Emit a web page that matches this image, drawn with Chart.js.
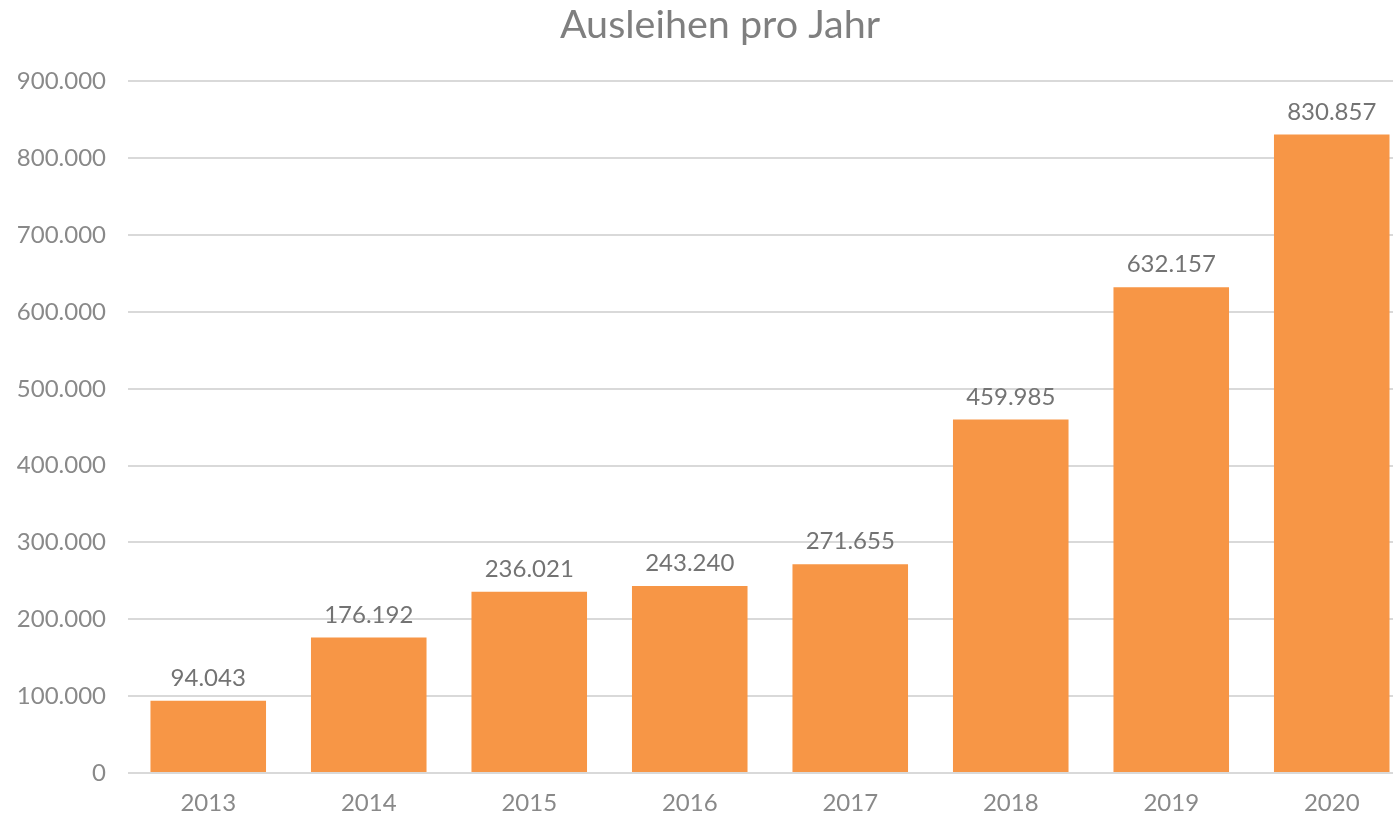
<!DOCTYPE html>
<html><head><meta charset="utf-8">
<script src="https://cdn.jsdelivr.net/npm/chart.js@4.4.1/dist/chart.umd.min.js"></script>
<style>
html,body{margin:0;padding:0;background:#fff;overflow:hidden;width:1393px;height:819px;}
#wrap{width:1393px;height:819px;overflow:hidden;position:relative;}
canvas{display:block;position:absolute;left:0;top:0;}
</style></head>
<body>
<div id="wrap"><canvas id="c" width="1440" height="819"></canvas></div>
<script>
const years = ['2013','2014','2015','2016','2017','2018','2019','2020'];
const loans = [94043,176192,236021,243240,271655,459985,632157,830857];
const chartTitle = 'Ausleihen pro Jahr';
const yTicks = [0,100000,200000,300000,400000,500000,600000,700000,800000,900000];

const fmt = v => v.toLocaleString('de-DE');
const FONT = 'Lato, "Open Sans", sans-serif';

const dataLabels = {
  id:'dataLabels',
  afterDatasetsDraw(chart){
    const ctx = chart.ctx;
    const meta = chart.getDatasetMeta(0);
    ctx.save();
    ctx.font = '24px ' + FONT;
    ctx.fillStyle = '#737373';
    ctx.textAlign = 'center';
    ctx.textBaseline = 'alphabetic';
    meta.data.forEach((bar,i)=>{
      ctx.fillText(fmt(loans[i]), bar.x, bar.y - 15);
    });
    ctx.restore();
  }
};

new Chart(document.getElementById('c'),{
  type:'bar',
  data:{labels:years,datasets:[{data:loans,backgroundColor:'#F79646',borderWidth:0,categoryPercentage:1,barPercentage:0.72}]},
  options:{
    responsive:false,animation:false,
    layout:{padding:{left:0,right:0,top:0,bottom:0}},
    plugins:{
      legend:{display:false},tooltip:{enabled:false},
      title:{display:true,text:chartTitle,color:'#7f7f7f',font:{family:FONT,size:39.5,weight:'normal',lineHeight:1.2},padding:{top:2,bottom:32}}
    },
    scales:{
      x:{grid:{display:false,drawTicks:false},border:{display:false},
         afterFit(s){s.height=46;},
         ticks:{color:'#898989',font:{family:FONT,size:24},padding:16,maxRotation:0}},
      y:{min:0,max:900000,afterBuildTicks(s){s.ticks=yTicks.map(v=>({value:v}));},
         afterFit(s){s.width=128;},
         grid:{color:'#d9d9d9',lineWidth:2,drawTicks:false},border:{display:false},
         ticks:{color:'#898989',font:{family:FONT,size:24},padding:22,callback:v=>fmt(v)}},
      yRight:{position:'right',min:0,max:900000,afterFit(s){s.width=28;},
         grid:{display:false,drawTicks:false},border:{display:false},ticks:{display:false}}
    }
  },
  plugins:[dataLabels]
});
</script>
</body></html>
